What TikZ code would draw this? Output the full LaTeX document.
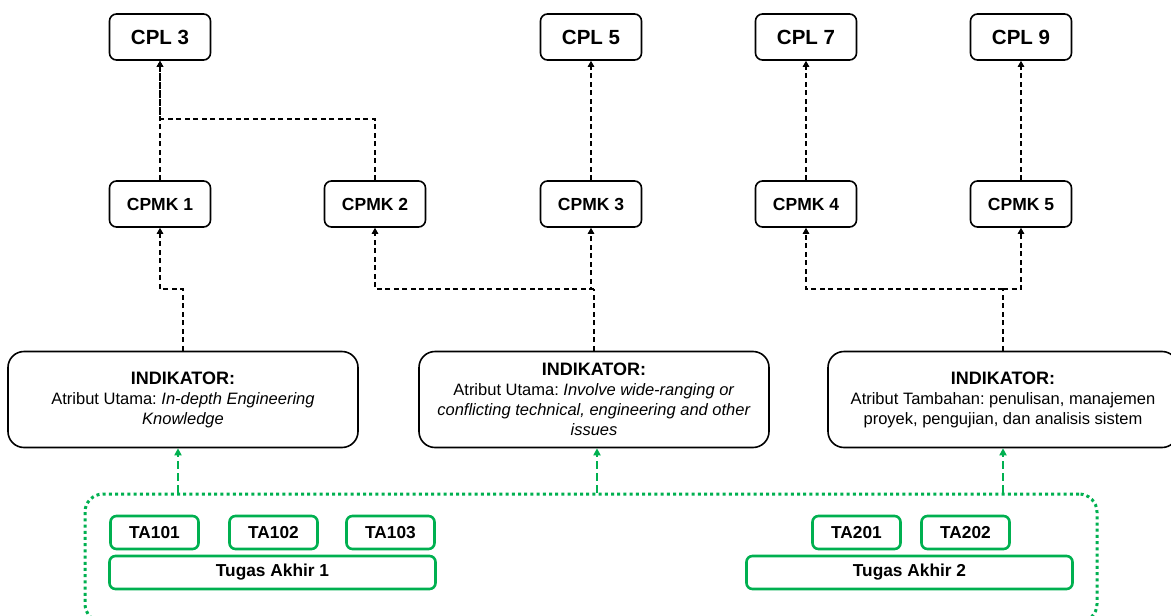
\documentclass[tikz,border=0pt]{standalone}
\usepackage{fontspec}
\setmainfont{Liberation Sans}
\usetikzlibrary{arrows.meta,calc}
\definecolor{tagreen}{RGB}{0,176,80}
\begin{document}
\frenchspacing
\begin{tikzpicture}[x=1pt,y=-1pt,
  blk/.style={draw=black, line width=1.6pt, rounded corners=7pt, inner sep=0pt,
    minimum width=101pt, minimum height=46pt},
  cplbox/.style={blk, font=\fontsize{20.5}{24}\selectfont\bfseries},
  cpmkbox/.style={blk, font=\fontsize{17.5}{20}\selectfont\bfseries},
  indbox/.style={draw=black, line width=1.6pt, rounded corners=16pt, inner sep=0pt,
    minimum width=350pt, minimum height=96pt, align=center,
    font=\fontsize{16.5}{20}\selectfont},
  hd/.style={},
  tabox/.style={draw=tagreen, line width=2.6pt, rounded corners=6pt, inner sep=0pt,
    minimum width=88pt, minimum height=33pt, font=\fontsize{17.3}{20}\selectfont\bfseries},
  takbox/.style={tabox, minimum width=326pt},
  grpbox/.style={draw=tagreen, line width=3pt, dash pattern=on 3pt off 3.2pt,
    rounded corners=18pt, inner sep=0pt},
  dl/.style={draw=black, line width=1.1pt, dash pattern=on 5pt off 3.5pt,
    -{Triangle[width=6.5pt,length=6pt]}},
  dseg/.style={draw=black, line width=1.1pt, dash pattern=on 5pt off 3.5pt},
  ga/.style={draw=tagreen, line width=2pt, dash pattern=on 8pt off 4pt,
    -{Triangle[width=7pt,length=7pt]}}
]
\useasboundingbox (0,0) rectangle (1171,616);

% CPL row
\node[cplbox] (cpl3) at (160,37) {CPL 3};
\node[cplbox] (cpl5) at (591,37) {CPL 5};
\node[cplbox] (cpl7) at (806,37) {CPL 7};
\node[cplbox] (cpl9) at (1021,37) {CPL 9};

% CPMK row
\node[cpmkbox] (cpmk1) at (160,204) {CPMK 1};
\node[cpmkbox] (cpmk2) at (375,204) {CPMK 2};
\node[cpmkbox] (cpmk3) at (591,204) {CPMK 3};
\node[cpmkbox] (cpmk4) at (806,204) {CPMK 4};
\node[cpmkbox] (cpmk5) at (1021,204) {CPMK 5};

% Indicators
\node[indbox] (ind1) at (183,399.5) {\textbf{\fontsize{18}{20}\selectfont INDIKATOR:}\\Atribut Utama: \textit{In-depth Engineering}\\\textit{Knowledge}};
\node[indbox] (ind2) at (594,399.5) {\textbf{\fontsize{18}{20}\selectfont INDIKATOR:}\\Atribut Utama: \textit{Involve wide-ranging or}\\\textit{conflicting technical, engineering and other}\\\textit{issues}};
\node[indbox] (ind3) at (1003,399.5) {\textbf{\fontsize{18}{20}\selectfont INDIKATOR:}\\Atribut Tambahan: penulisan, manajemen\\proyek, pengujian, dan analisis sistem};

% Group container
\node[grpbox, minimum width=1012pt, minimum height=128pt] (grp) at (591,558) {};

% TA boxes
\node[tabox] (ta101) at (154.5,532.5) {TA101};
\node[tabox] (ta102) at (273.5,532.5) {TA102};
\node[tabox] (ta103) at (390.5,532.5) {TA103};
\node[takbox] (tak1) at (272.5,572.5) {Tugas Akhir 1};
\node[tabox] (ta201) at (856.5,532.5) {TA201};
\node[tabox] (ta202) at (965.5,532.5) {TA202};
\node[takbox] (tak2) at (909.5,572.5) {Tugas Akhir 2};

% junction coordinates
\coordinate (j1) at (160,119);
\coordinate (m1) at (183,289);
\coordinate (m2) at (594,289);
\coordinate (m3) at (1003,289);

% CPMK -> CPL
\draw[dl] (cpmk1.north) -- (cpl3.south);
\draw[dl] (cpmk2.north) |- (j1) -- (cpl3.south);
\draw[dl] (cpmk3.north) -- (cpl5.south);
\draw[dl] (cpmk4.north) -- (cpl7.south);
\draw[dl] (cpmk5.north) -- (cpl9.south);

% Indicator -> CPMK
\draw[dl] (ind1.north) -- (m1) -| (cpmk1.south);
\draw[dseg] (ind2.north) -- (m2);
\draw[dl] (m2) -| (cpmk2.south);
\draw[dl] (m2) -| (cpmk3.south);
\draw[dseg] (ind3.north) -- (m3);
\draw[dl] (m3) -| (cpmk4.south);
\draw[dl] (m3) -| (cpmk5.south);

% Group -> Indicators
\draw[ga] ($(grp.north -| ind1.south)+(-5,0)$) -- ($(ind1.south)+(-5,0)$);
\draw[ga] ($(grp.north -| ind2.south)+(3,0)$) -- ($(ind2.south)+(3,0)$);
\draw[ga] (grp.north -| ind3.south) -- (ind3.south);
\end{tikzpicture}
\end{document}
